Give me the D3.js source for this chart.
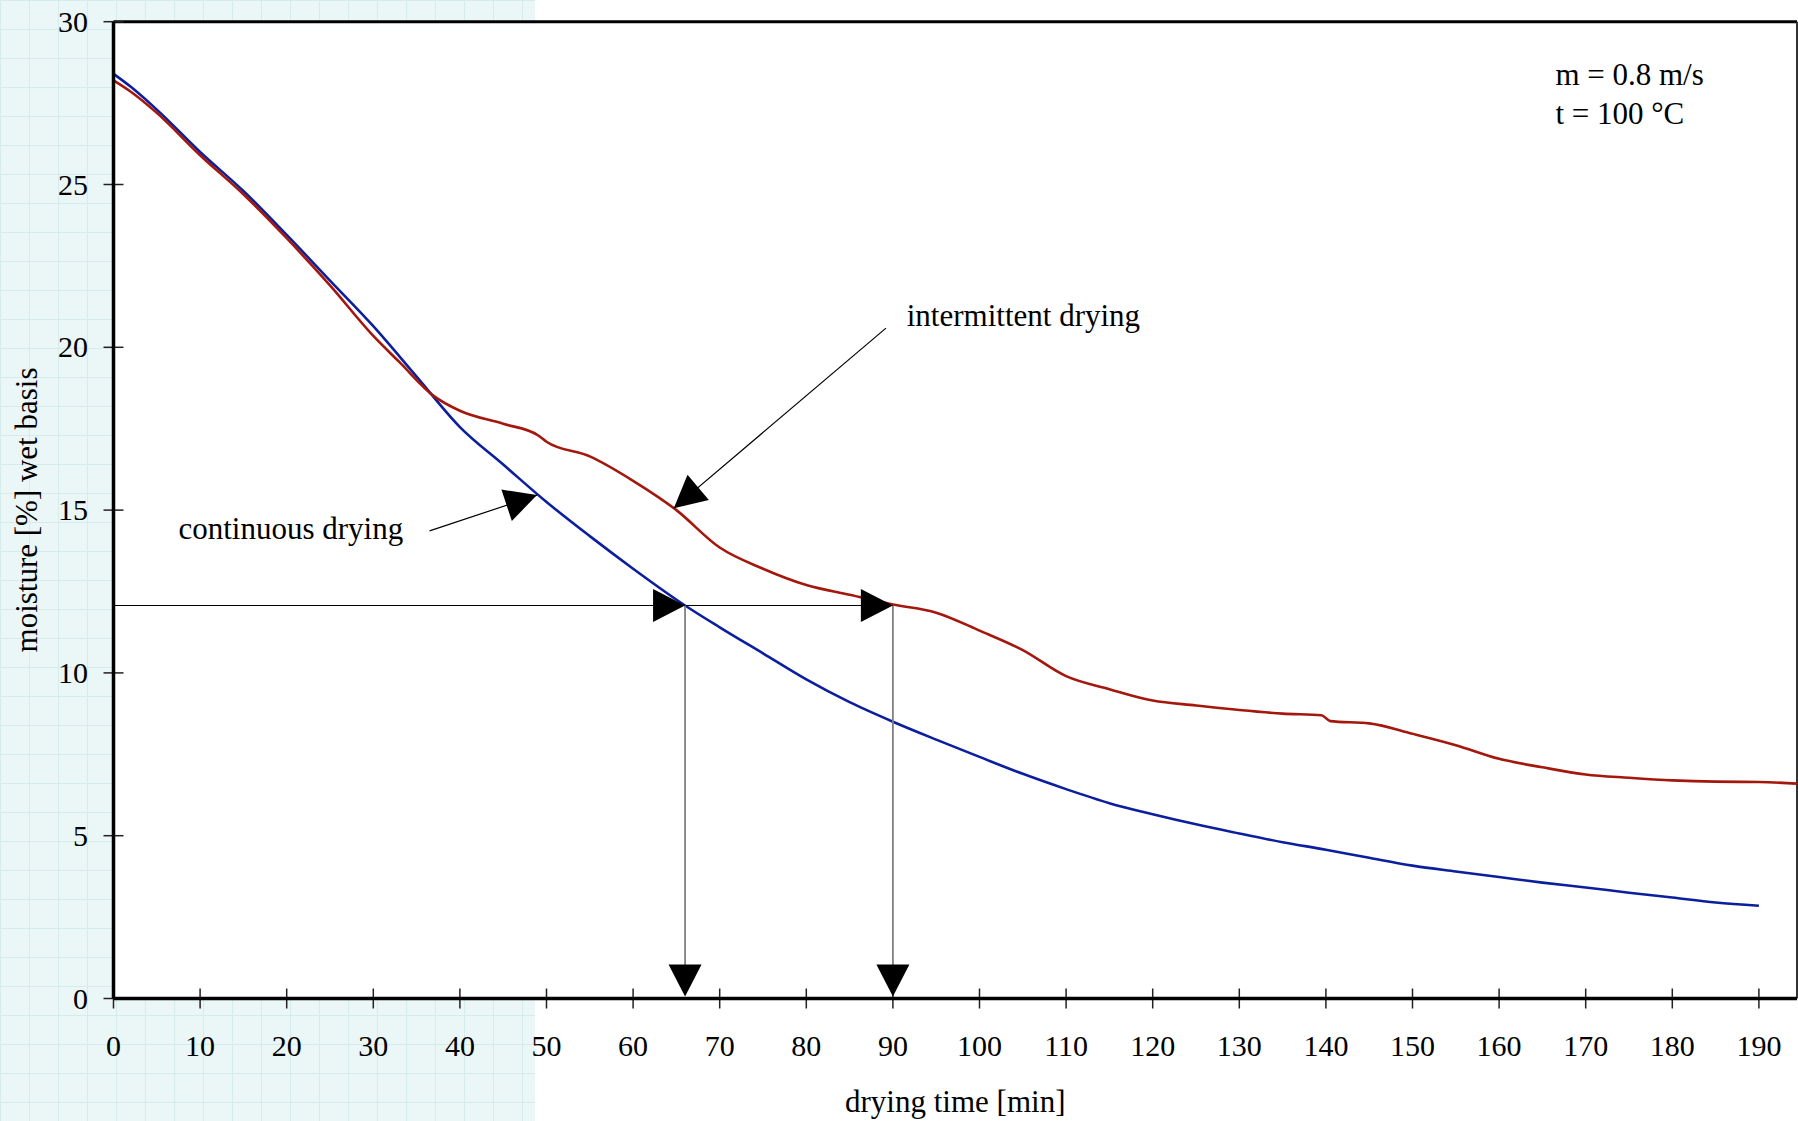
<!DOCTYPE html>
<html>
<head>
<meta charset="utf-8">
<script src="https://cdn.jsdelivr.net/npm/d3@7"></script>
<style>
  body { margin: 0; background: #fff; }
  text { font-family: "Liberation Serif", "Times New Roman", serif; fill: #000; }
</style>
</head>
<body>
<svg id="chart"></svg>
<script>
// size of the page
var width = 1798,
    height = 1121;

// drying time [min] and moisture [%]
var contTime = [0, 2, 5, 10, 15, 20, 25, 30, 35, 40, 45, 50, 55, 60, 66, 70, 75, 80, 85, 90, 95, 100, 105, 110, 115, 120, 125, 130, 135, 140, 145, 150, 155, 160, 165, 170, 175, 180, 185, 190];
var contMoist = [28.4, 28.0, 27.3, 26.0, 24.8, 23.45, 22.05, 20.65, 19.1, 17.55, 16.4, 15.25, 14.2, 13.2, 12.07, 11.4, 10.6, 9.8, 9.1, 8.5, 7.95, 7.42, 6.9, 6.43, 6.0, 5.66, 5.35, 5.07, 4.8, 4.57, 4.32, 4.08, 3.9, 3.73, 3.56, 3.41, 3.25, 3.1, 2.95, 2.85];

var interTime = [0, 2, 5, 10, 15, 20, 25, 30, 33, 37, 40, 45, 49, 50, 55, 60, 65, 70, 75, 80, 85, 90, 95, 100, 105, 110, 115, 120, 125, 130, 135, 139.5, 140.5, 145, 150, 155, 160, 165, 170, 175, 180, 185, 190, 194.4];
var interMoist = [28.2, 27.85, 27.2, 25.9, 24.7, 23.35, 21.9, 20.35, 19.55, 18.5, 18.05, 17.65, 17.3, 17.1, 16.65, 15.9, 15.0, 13.85, 13.2, 12.7, 12.4, 12.1, 11.85, 11.3, 10.7, 9.9, 9.5, 9.15, 9.0, 8.86, 8.75, 8.7, 8.52, 8.45, 8.13, 7.78, 7.36, 7.1, 6.88, 6.78, 6.7, 6.66, 6.65, 6.6];

var xTicks = d3.range(0, 200, 10);
var yTicks = [0, 5, 10, 15, 20, 25, 30];

// drying times read at 12.07 % moisture
var readMoist = 12.07;
var readTimes = [66, 90];

var svg = d3.select("#chart")
    .attr("width", width)
    .attr("height", height);

// light grid paper on the left side
var defs = svg.append("defs");
var pat = defs.append("pattern")
    .attr("id", "paper")
    .attr("patternUnits", "userSpaceOnUse")
    .attr("width", 29).attr("height", 29);
pat.append("rect").attr("width", 29).attr("height", 29).attr("fill", "#ebf6f6");
pat.append("path").attr("d", "M0,0.5H29M0.5,0V29")
    .attr("stroke", "#d6ecec").attr("stroke-width", 1);

svg.append("rect")
    .attr("x", 0).attr("y", 0)
    .attr("width", 535).attr("height", height)
    .attr("fill", "url(#paper)");

var x = d3.scaleLinear().domain([0, 194.4]).range([113.5, 1797]);
var y = d3.scaleLinear().domain([0, 30]).range([998.5, 21.7]);

// plot area
svg.append("rect")
    .attr("x", x(0)).attr("y", y(30))
    .attr("width", x(194.4) - x(0)).attr("height", y(0) - y(30))
    .attr("fill", "#fff");

// frame, top and right
svg.append("line")
    .attr("x1", x(0)).attr("x2", x(194.4))
    .attr("y1", y(30)).attr("y2", y(30))
    .attr("stroke", "#000").attr("stroke-width", 3);
svg.append("line")
    .attr("x1", x(194.4)).attr("x2", x(194.4))
    .attr("y1", y(30)).attr("y2", y(0))
    .attr("stroke", "#333").attr("stroke-width", 2);

// ticks crossing the axes
svg.append("g")
    .selectAll("line")
    .data(xTicks)
    .join("line")
    .attr("x1", d => x(d)).attr("x2", d => x(d))
    .attr("y1", y(0) - 10).attr("y2", y(0) + 10)
    .attr("stroke", "#222").attr("stroke-width", 1.5);

svg.append("g")
    .selectAll("line")
    .data(yTicks)
    .join("line")
    .attr("x1", x(0) - 10).attr("x2", x(0) + 10)
    .attr("y1", d => y(d)).attr("y2", d => y(d))
    .attr("stroke", "#222").attr("stroke-width", 1.5);

// tick labels
svg.append("g")
    .selectAll("text")
    .data(xTicks)
    .join("text")
    .attr("x", d => x(d))
    .attr("y", 1056)
    .attr("text-anchor", "middle")
    .style("font-size", "30px")
    .text(d => d);

svg.append("g")
    .selectAll("text")
    .data(yTicks)
    .join("text")
    .attr("x", 88)
    .attr("y", d => y(d) + 10)
    .attr("text-anchor", "end")
    .style("font-size", "30px")
    .text(d => d);

// axis titles
svg.append("text")
    .attr("x", (x(0) + x(194.4)) / 2)
    .attr("y", 1112)
    .attr("text-anchor", "middle")
    .style("font-size", "31px")
    .text("drying time [min]");

svg.append("text")
    .attr("transform", "translate(37," + 510 + ") rotate(-90)")
    .attr("text-anchor", "middle")
    .style("font-size", "31px")
    .text("moisture [%] wet basis");

// curves
var line = d3.line()
    .x(d => x(d[0]))
    .y(d => y(d[1]))
    .curve(d3.curveMonotoneX);

svg.append("path")
    .datum(d3.zip(contTime, contMoist))
    .attr("d", line)
    .attr("fill", "none")
    .attr("stroke", "#0b1f9e")
    .attr("stroke-width", 2.6);

svg.append("path")
    .datum(d3.zip(interTime, interMoist))
    .attr("d", line)
    .attr("fill", "none")
    .attr("stroke", "#a3170c")
    .attr("stroke-width", 2.6);

// axes, left and bottom
svg.append("line")
    .attr("x1", x(0)).attr("x2", x(0))
    .attr("y1", y(30)).attr("y2", y(0))
    .attr("stroke", "#000").attr("stroke-width", 3.5);
svg.append("line")
    .attr("x1", x(0)).attr("x2", x(194.4))
    .attr("y1", y(0)).attr("y2", y(0))
    .attr("stroke", "#000").attr("stroke-width", 3.5);

// filled arrow head with its tip at (tx, ty) coming from (fx, fy), in pixels
function arrowHead(fx, fy, tx, ty) {
    var len = 32, half = 16.5;
    var dx = tx - fx, dy = ty - fy;
    var l = Math.sqrt(dx * dx + dy * dy);
    var ux = dx / l, uy = dy / l;
    var bx = tx - ux * len, by = ty - uy * len;
    svg.append("path")
        .attr("d", "M" + tx + "," + ty +
            "L" + (bx - uy * half) + "," + (by + ux * half) +
            "L" + (bx + uy * half) + "," + (by - ux * half) + "Z")
        .attr("fill", "#000");
}

// reading lines
svg.append("line")
    .attr("x1", x(0)).attr("x2", x(readTimes[1]))
    .attr("y1", y(readMoist)).attr("y2", y(readMoist))
    .attr("stroke", "#000").attr("stroke-width", 1.2);

readTimes.forEach(function (t) {
    svg.append("line")
        .attr("x1", x(t)).attr("x2", x(t))
        .attr("y1", y(readMoist)).attr("y2", y(0) - 4)
        .attr("stroke", "#808080").attr("stroke-width", 1.8);
    arrowHead(x(t) - 40, y(readMoist), x(t), y(readMoist));
    arrowHead(x(t), y(readMoist), x(t), y(0) - 2);
});

// labels with arrows
var labels = [
    { text: "continuous drying", tx: 7.5, ty: 14.1, from: [36.5, 14.36], to: [48.9, 15.46] },
    { text: "intermittent drying", tx: 91.6, ty: 20.65, from: [89.2, 20.59], to: [64.7, 15.06] }
];

labels.forEach(function (d) {
    svg.append("text")
        .attr("x", x(d.tx)).attr("y", y(d.ty))
        .style("font-size", "31px")
        .text(d.text);
    svg.append("line")
        .attr("x1", x(d.from[0])).attr("y1", y(d.from[1]))
        .attr("x2", x(d.to[0])).attr("y2", y(d.to[1]))
        .attr("stroke", "#000").attr("stroke-width", 1.2);
    arrowHead(x(d.from[0]), y(d.from[1]), x(d.to[0]), y(d.to[1]));
});

// conditions
var conditions = ["m = 0.8 m/s", "t = 100 °C"];
svg.append("g")
    .selectAll("text")
    .data(conditions)
    .join("text")
    .attr("x", x(166.5))
    .attr("y", (d, i) => 85 + i * 39)
    .style("font-size", "31px")
    .text(d => d);
</script>
</body>
</html>
